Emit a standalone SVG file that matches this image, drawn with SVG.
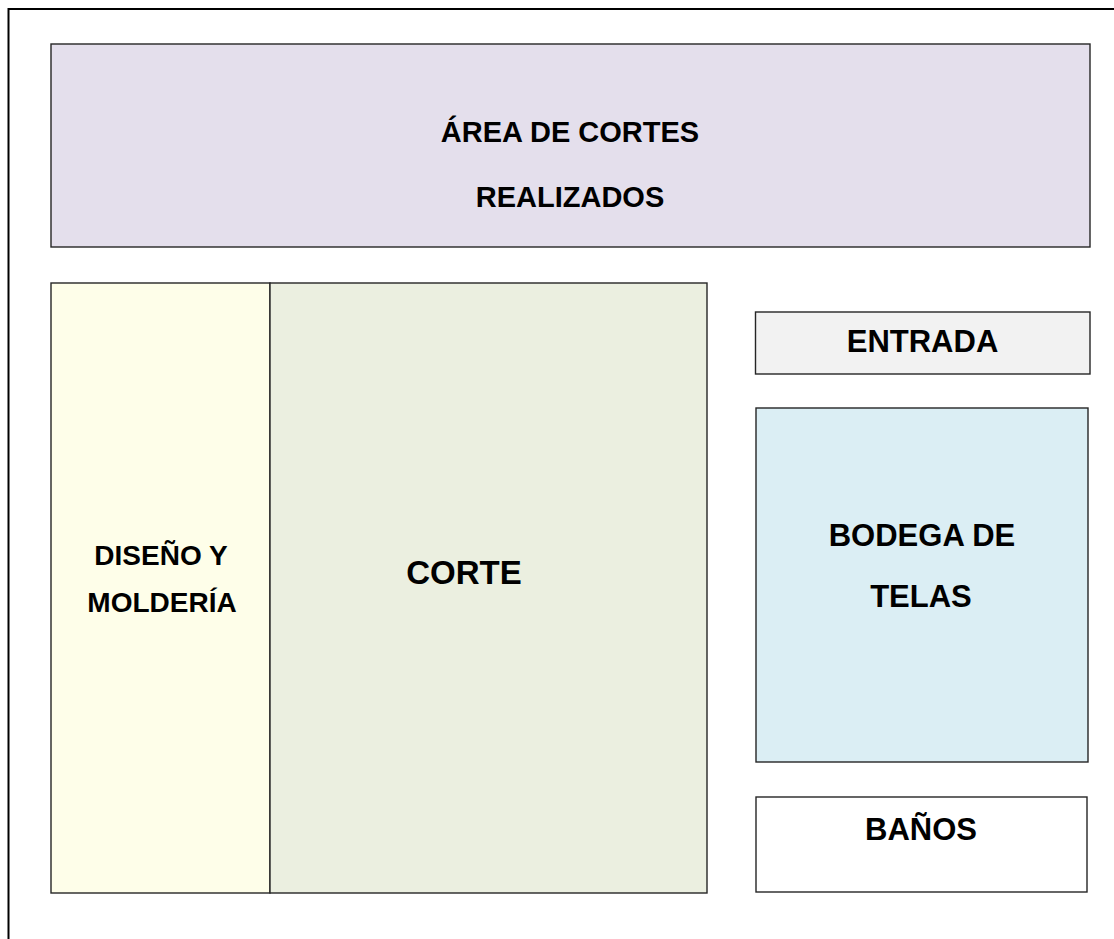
<svg xmlns="http://www.w3.org/2000/svg" width="1114" height="939" viewBox="0 0 1114 939">
<style>
.box{stroke:#262626;stroke-width:1.4}
.t{font-family:"Liberation Sans",Arial,sans-serif;font-weight:bold;fill:#000;text-anchor:middle}
</style>
<rect x="0" y="0" width="1114" height="939" fill="#ffffff"/>
<g id="frame" fill="none" stroke="#000" stroke-width="2">
<path d="M8.5 939 V9 H1114"/>
</g>
<g id="area-cortes-realizados">
<rect class="box" x="51" y="44" width="1039" height="203" fill="#e4dfec"/>
<text class="t" x="570" y="142" font-size="29">ÁREA DE CORTES</text>
<text class="t" x="570" y="207" font-size="29">REALIZADOS</text>
</g>
<g id="diseno-molderia">
<rect class="box" x="51" y="283" width="219" height="610" fill="#fefee9"/>
<text class="t" x="161" y="565" font-size="28">DISEÑO Y</text>
<text class="t" x="162" y="612" font-size="28">MOLDERÍA</text>
</g>
<g id="corte">
<rect class="box" x="270" y="283" width="437" height="610" fill="#ebefe0"/>
<text class="t" x="464" y="584" font-size="33">CORTE</text>
</g>
<g id="entrada">
<rect class="box" x="755.5" y="312" width="334.5" height="62" fill="#f2f2f2"/>
<text class="t" x="922.5" y="352" font-size="31">ENTRADA</text>
</g>
<g id="bodega-telas">
<rect class="box" x="756" y="408" width="332" height="354" fill="#dbeef4"/>
<text class="t" x="922" y="546" font-size="31">BODEGA DE</text>
<text class="t" x="921" y="607" font-size="31">TELAS</text>
</g>
<g id="banos">
<rect class="box" x="756" y="797" width="331" height="95" fill="#ffffff"/>
<text class="t" x="921" y="840" font-size="31">BAÑOS</text>
</g>
<g id="connectors"></g>
</svg>
